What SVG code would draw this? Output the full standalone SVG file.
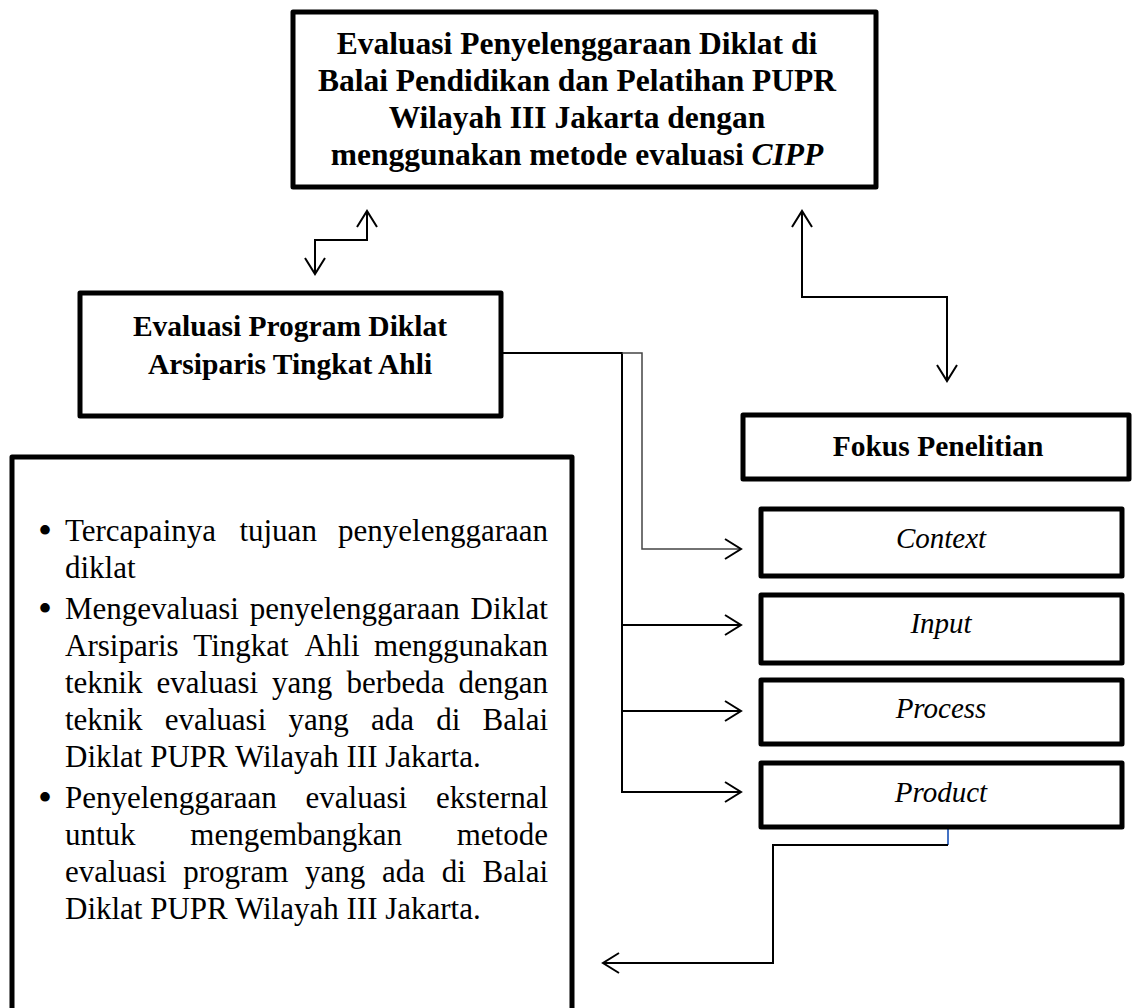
<svg xmlns="http://www.w3.org/2000/svg" width="1134" height="1008" viewBox="0 0 1134 1008">
<defs>
<style>
.box{fill:#fff;stroke:#000;stroke-width:5;stroke-linejoin:round}
.hb{font-family:"Liberation Serif","Times New Roman",serif;font-weight:bold;fill:#000;text-anchor:middle}
.it{font-family:"Liberation Serif","Times New Roman",serif;font-style:italic;font-size:29px;fill:#000;text-anchor:middle}
.bt{font-family:"Liberation Serif","Times New Roman",serif;font-size:31px;fill:#000}
.bl{font-family:"Liberation Serif","Times New Roman",serif;font-size:40px;fill:#000;text-anchor:middle}
.e{text-anchor:end}
.c{fill:none;stroke:#000;stroke-width:2}
.c2{fill:none;stroke:#444;stroke-width:1.5}
</style>
<marker id="ah" viewBox="-18 -12 20 24" markerWidth="20" markerHeight="24" refX="0" refY="0" markerUnits="userSpaceOnUse" orient="auto-start-reverse">
<path d="M-16,-10 L0,0 L-16,10" fill="none" stroke="#000" stroke-width="2"/>
</marker>
</defs>
<rect width="1134" height="1008" fill="#fff"/>
<g id="connectors">
<path class="c" d="M367,211 V240 H315 V274" marker-start="url(#ah)" marker-end="url(#ah)"/>
<path class="c" d="M802,211 V297 H947 V381" marker-start="url(#ah)" marker-end="url(#ah)"/>
<path class="c" d="M501,353 H622 V792"/>
<path class="c2" d="M622,353 H642 V549 H741" marker-end="url(#ah)"/>
<path class="c" d="M622,625 H741" marker-end="url(#ah)"/>
<path class="c" d="M622,711 H741" marker-end="url(#ah)"/>
<path class="c" d="M621,792 H741" marker-end="url(#ah)"/>
<path d="M948,827 V845" fill="none" stroke="#4472C4" stroke-width="2"/>
<path class="c" d="M948,845 H773 V963 H603" marker-end="url(#ah)"/>
</g>
<g id="node-top">
<rect class="box" x="293" y="12" width="583" height="175"/>
<text class="hb" font-size="31.5" x="577" y="54">Evaluasi Penyelenggaraan Diklat di</text>
<text class="hb" font-size="31.5" x="577" y="91">Balai Pendidikan dan Pelatihan PUPR</text>
<text class="hb" font-size="31.5" x="577" y="128">Wilayah III Jakarta dengan</text>
<text class="hb" font-size="31.5" x="577" y="165">menggunakan metode evaluasi <tspan font-style="italic">CIPP</tspan></text>
</g>
<g id="node-program">
<rect class="box" x="80" y="293" width="421" height="123"/>
<text class="hb" font-size="29.5" x="290" y="336">Evaluasi Program Diklat</text>
<text class="hb" font-size="29.5" x="290" y="374">Arsiparis Tingkat Ahli</text>
</g>
<g id="node-list">
<rect class="box" x="12" y="457" width="560" height="570"/>
<text class="bl" x="45" y="544">•</text>
<text class="bt" y="541"><tspan x="65">Tercapainya</tspan><tspan x="239.4">tujuan</tspan><tspan x="548" class="e">penyelenggaraan</tspan></text>
<text class="bt" x="65" y="578">diklat</text>
<text class="bl" x="45" y="622">•</text>
<text class="bt" y="619"><tspan x="65">Mengevaluasi</tspan><tspan x="249.7">penyelenggaraan</tspan><tspan x="548" class="e">Diklat</tspan></text>
<text class="bt" y="656"><tspan x="65">Arsiparis</tspan><tspan x="193.3">Tingkat</tspan><tspan x="304.4">Ahli</tspan><tspan x="548" class="e">menggunakan</tspan></text>
<text class="bt" y="693"><tspan x="65">teknik</tspan><tspan x="156.5">evaluasi</tspan><tspan x="272.1">yang</tspan><tspan x="346.4">berbeda</tspan><tspan x="548" class="e">dengan</tspan></text>
<text class="bt" y="730"><tspan x="65">teknik</tspan><tspan x="164.7">evaluasi</tspan><tspan x="288.5">yang</tspan><tspan x="371">ada</tspan><tspan x="436.2">di</tspan><tspan x="548" class="e">Balai</tspan></text>
<text class="bt" x="65" y="767">Diklat PUPR Wilayah III Jakarta.</text>
<text class="bl" x="45" y="811">•</text>
<text class="bt" y="808"><tspan x="65">Penyelenggaraan</tspan><tspan x="305.6">evaluasi</tspan><tspan x="548" class="e">eksternal</tspan></text>
<text class="bt" y="845"><tspan x="65">untuk</tspan><tspan x="190.3">mengembangkan</tspan><tspan x="548" class="e">metode</tspan></text>
<text class="bt" y="882"><tspan x="65">evaluasi</tspan><tspan x="183.3">program</tspan><tspan x="305">yang</tspan><tspan x="382">ada</tspan><tspan x="441.7">di</tspan><tspan x="548" class="e">Balai</tspan></text>
<text class="bt" x="65" y="919">Diklat PUPR Wilayah III Jakarta.</text>
</g>
<g id="node-fokus">
<rect class="box" x="743" y="415" width="386" height="64"/>
<text class="hb" font-size="29.5" x="938" y="456">Fokus Penelitian</text>
</g>
<g id="node-context">
<rect class="box" x="761" y="509" width="361" height="67"/>
<text class="it" x="941" y="548">Context</text>
</g>
<g id="node-input">
<rect class="box" x="761" y="595" width="361" height="68"/>
<text class="it" x="941" y="633">Input</text>
</g>
<g id="node-process">
<rect class="box" x="761" y="680" width="361" height="64"/>
<text class="it" x="941" y="718">Process</text>
</g>
<g id="node-product">
<rect class="box" x="761" y="763" width="361" height="64"/>
<text class="it" x="941" y="802">Product</text>
</g>
</svg>
